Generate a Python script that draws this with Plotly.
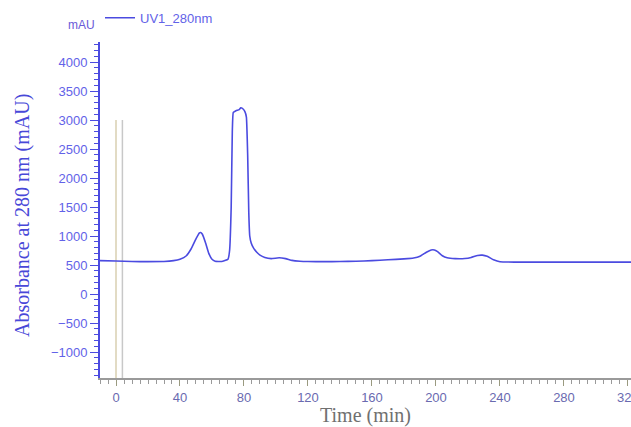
import plotly.graph_objects as go

# ---- data ----
time_min = [-10, 0, 10, 20, 30, 36, 40, 44, 47, 50, 52, 53, 54, 56, 58, 60, 62, 66, 70,
            71, 72, 72.7, 73.3, 75, 77, 78, 79, 80.5, 81.5, 82.3, 83, 83.6, 84.5, 86, 88,
            90, 93, 97, 102, 106, 110, 115, 120, 130, 140, 150, 160, 170, 180, 186, 190,
            194, 197, 199, 201, 204, 207, 212, 218, 222, 226, 229, 232, 236, 240, 250,
            280, 300, 322]
absorbance = [575, 570, 560, 558, 560, 575, 600, 660, 780, 950, 1050, 1060, 1030, 880, 700,
              600, 565, 560, 600, 750, 1500, 2800, 3130, 3160, 3180, 3210, 3200, 3150, 3050,
              2400, 1400, 1000, 880, 790, 720, 670, 630, 610, 625, 610, 580, 565, 560, 558,
              560, 565, 575, 590, 605, 620, 650, 720, 760, 760, 730, 660, 625, 610, 612, 630,
              665, 670, 650, 590, 555, 550, 550, 550, 550]

marker_times = [0, 4]
marker_colors = ["#d9cfb0", "#c8c8c8"]
marker_top = 3000

x_ticks = [0, 40, 80, 120, 160, 200, 240, 280, 320]
y_ticks = [-1000, -500, 0, 500, 1000, 1500, 2000, 2500, 3000, 3500, 4000]

blue = "#4b4be0"
label_blue = "#6262e8"

fig = go.Figure()

for t, c in zip(marker_times, marker_colors):
    fig.add_shape(type="line", xref="x", yref="y", x0=t, x1=t, y0=-1448, y1=marker_top,
                  line=dict(color=c, width=1.5), layer="below")

fig.add_trace(go.Scatter(x=time_min, y=absorbance, mode="lines", name="UV1_280nm",
                         line=dict(color=blue, width=1.6, shape="spline", smoothing=0.35)))

fig.update_layout(
    width=631, height=427,
    margin=dict(l=100, r=0, t=42, b=49, autoexpand=False),
    paper_bgcolor="white", plot_bgcolor="white",
    showlegend=True,
    legend=dict(x=0.0, y=1.072, xanchor="left", yanchor="middle", orientation="h",
                font=dict(family="Arial, Liberation Sans", size=13, color=label_blue),
                bgcolor="rgba(0,0,0,0)", itemwidth=30),
    xaxis=dict(range=[-10, 321.9], tickvals=x_ticks, ticks="outside", ticklen=6,
               tickcolor="#9a9a80", showline=True, linecolor="#9a9a9a", linewidth=2,
               showgrid=False, zeroline=False, automargin=False,
               ticklabeloverflow="allow",
               tickfont=dict(family="Arial, Liberation Sans", size=13, color="#6a6ab0"),
               minor=dict(dtick=5, tick0=0, ticks="outside", ticklen=4, tickcolor="#9a9a9a"),
               title=dict(text="Time (min)", standoff=4,
                          font=dict(family="Liberation Serif, Times New Roman", size=20,
                                    color="#707070"))),
    yaxis=dict(range=[-1448, 4345], tickvals=y_ticks, ticks="outside", ticklen=8,
               tickcolor=blue, showline=True, linecolor=blue, linewidth=2,
               showgrid=False, zeroline=False, automargin=False,
               tickfont=dict(family="Arial, Liberation Sans", size=13, color=label_blue),
               minor=dict(dtick=100, tick0=0, ticks="outside", ticklen=4, tickcolor=blue)),
)

fig.add_annotation(text="mAU", xref="paper", yref="paper", x=-0.034, y=1.05,
                   showarrow=False, xanchor="center", yanchor="middle",
                   font=dict(family="Arial, Liberation Sans", size=12, color="#6a5ad8"))
fig.add_annotation(text="Absorbance at 280 nm (mAU)", xref="paper", yref="paper",
                   x=-0.147, y=0.485, textangle=-90, showarrow=False,
                   xanchor="center", yanchor="middle",
                   font=dict(family="Liberation Serif, Times New Roman", size=20, color="#4848d8"))

fig.write_html("out.html", config={"displayModeBar": False},
               post_script="document.body.style.margin='0';")
